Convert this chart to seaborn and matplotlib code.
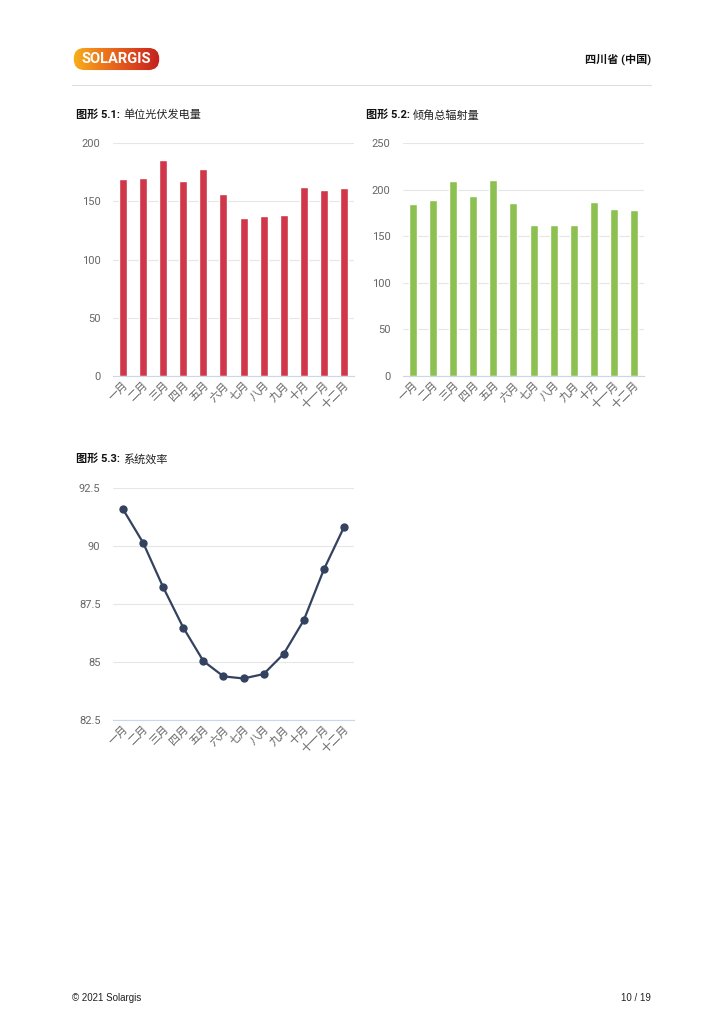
import numpy as np
import matplotlib
matplotlib.use("Agg")
import matplotlib.pyplot as plt
import seaborn as sns
from matplotlib.patches import FancyBboxPatch
from matplotlib.lines import Line2D

months = ["一月", "二月", "三月", "四月", "五月", "六月", "七月", "八月", "九月", "十月", "十一月", "十二月"]
pv_output = [169, 170, 185, 167, 178, 156, 136, 137, 138, 162, 160, 161]
gti = [184.5, 189, 209, 193.5, 210, 185.5, 161.5, 162.5, 161.5, 186.5, 179, 178]
efficiency = [91.58, 90.14, 88.22, 86.48, 85.04, 84.38, 84.29, 84.48, 85.35, 86.80, 88.99, 90.81]

sns.set_theme(style="white")
plt.rcParams['font.family'] = ['Roboto', 'Noto Sans CJK SC', 'DejaVu Sans']

W, H = 723, 1024
fig = plt.figure(figsize=(W / 100, H / 100), dpi=100)
fig.patch.set_facecolor("white")

def px_axes(x0, y_top, x1, y_bot):
    return fig.add_axes([x0 / W, 1 - y_bot / H, (x1 - x0) / W, (y_bot - y_top) / H])

TICK = "#666666"
GRID = "#E6E6E6"
BASE = "#CCD6EB"

def style(ax, ylim, yticks, ylabels):
    ax.set_xlim(-0.5, 11.5)
    ax.set_ylim(*ylim)
    ax.set_yticks(yticks)
    ax.set_yticklabels(ylabels)
    for s in ["top", "right", "left"]:
        ax.spines[s].set_visible(False)
    ax.spines["bottom"].set_color(BASE)
    ax.spines["bottom"].set_linewidth(0.8)
    ax.set_axisbelow(True)
    ax.yaxis.grid(True, color=GRID, linewidth=0.8)
    ax.xaxis.grid(False)
    ax.tick_params(axis="y", length=0, pad=9, labelsize=8, labelcolor=TICK)
    ax.tick_params(axis="x", length=0, pad=3, labelsize=8, labelcolor=TICK)
    ax.set_xticks(range(12))
    ax.set_xticklabels(months, rotation=45, ha="right", rotation_mode="anchor")
    ax.set_xlabel("")
    ax.set_ylabel("")
    ax.set_facecolor("white")

# Chart 5.1
ax1 = px_axes(113, 143, 354, 376)
sns.barplot(x=list(range(12)), y=pv_output, color="#D0384A", saturation=1, width=0.4, ax=ax1, native_scale=True)
style(ax1, (0, 200), [0, 50, 100, 150, 200], ["0", "50", "100", "150", "200"])

# Chart 5.2
ax2 = px_axes(403, 143, 644, 376)
sns.barplot(x=list(range(12)), y=gti, color="#8CC152", saturation=1, width=0.4, ax=ax2, native_scale=True)
style(ax2, (0, 250), [0, 50, 100, 150, 200, 250], ["0", "50", "100", "150", "200", "250"])

# Chart 5.3
ax3 = px_axes(113, 488, 354, 720)
sns.lineplot(x=list(range(12)), y=efficiency, color="#33425E", linewidth=1.6, marker="o",
             markersize=6, markeredgewidth=0, sort=False, ax=ax3)
style(ax3, (82.5, 92.5), [82.5, 85, 87.5, 90, 92.5], ["82.5", "85", "87.5", "90", "92.5"])

# Titles
def title(x, y, bold, rest):
    t = fig.text(x / W, 1 - y / H, bold, fontsize=8, fontweight="bold", color="#111111",
                 va="center", ha="left")
    fig.canvas.draw()
    bb = t.get_window_extent()
    fig.text((bb.x1 + 3) / W, 1 - y / H, rest, fontsize=8, color="#222222", va="center", ha="left")

title(76, 115, "图形 5.1:", "单位光伏发电量")
title(366, 115, "图形 5.2:", "倾角总辐射量")
title(76, 459, "图形 5.3:", "系统效率")

# Header
lax = fig.add_axes([72 / W, 1 - 71 / H, 89 / W, 24 / H])
lax.set_xlim(0, 1)
lax.set_ylim(0, 1)
lax.axis("off")
grad = np.linspace(0, 1, 256).reshape(1, -1)
from matplotlib.colors import LinearSegmentedColormap
cmap = LinearSegmentedColormap.from_list("logo", ["#F7B21B", "#EE7A1C", "#DC4A1E", "#C21F1E"])
im = lax.imshow(grad, extent=[0, 1, 0, 1], aspect="auto", cmap=cmap)
patch = FancyBboxPatch((0.02, 0.04), 0.96, 0.92, boxstyle="round,pad=0,rounding_size=0.12",
                       transform=lax.transAxes, facecolor="none", edgecolor="none",
                       mutation_aspect=89 / 24)
lax.add_patch(patch)
im.set_clip_path(patch)
lax.text(0.5, 0.5, "SOLARGIS", color="white", fontsize=10.5, fontweight="bold",
         ha="center", va="center", family=["Roboto", "DejaVu Sans"])

fig.text(651 / W, 1 - 59 / H, "四川省 (中国)", fontsize=8, fontweight="bold", color="#111111",
         ha="right", va="center")
fig.add_artist(Line2D([72 / W, 651 / W], [1 - 85 / H, 1 - 85 / H], color="#DDDDDD", linewidth=0.8))

# Footer
fig.text(72 / W, 1 - 998 / H, "© 2021 Solargis", fontsize=7, color="#222222", ha="left", va="center",
         family=["Liberation Sans", "DejaVu Sans"])
fig.text(651 / W, 1 - 998 / H, "10 / 19", fontsize=7, color="#222222", ha="right", va="center",
         family=["Liberation Sans", "DejaVu Sans"])

fig.savefig("out.png", dpi=100, facecolor="white")
